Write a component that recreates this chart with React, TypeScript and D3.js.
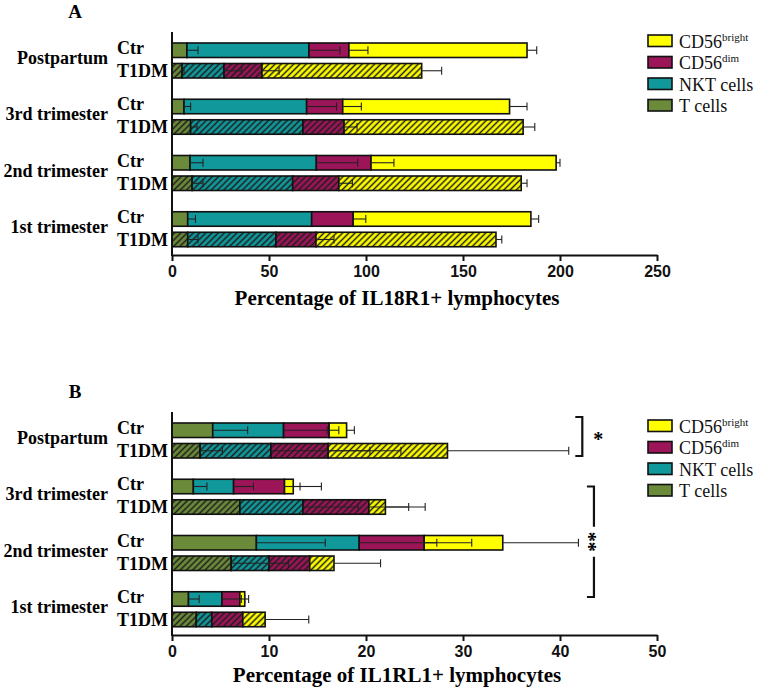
import React, { useRef, useEffect } from 'react';
import * as d3 from 'd3';

// categories
const groups = ['Postpartum', '3rd trimester', '2nd trimester', '1st trimester'];
const conditions = ['Ctr', 'T1DM'];
const cellTypes = ['T cells', 'NKT cells', 'CD56dim', 'CD56bright'];
const cellColors = ['#6b8b3b', '#11989b', '#9b1558', '#ffff00'];

// Panel A: % IL18R1+ lymphocytes, segments in stack order (T, NKT, CD56dim, CD56bright)
const il18Ctr = [
  [7.7, 62.9, 20.6, 91.8],
  [6.2, 63.2, 18.6, 86.0],
  [9.3, 65.1, 28.2, 95.4],
  [8.1, 63.9, 21.4, 91.6],
];
const il18CtrSem = [
  [5.7, 16.0, 9.8, 5.0],
  [3.4, 15.4, 9.6, 9.0],
  [6.7, 21.3, 11.8, 2.0],
  [4.0, 0, 6.5, 4.0],
];
const il18T1dm = [
  [5.2, 21.6, 19.6, 82.3],
  [9.6, 57.9, 21.2, 92.3],
  [10.4, 51.8, 23.8, 94.0],
  [8.1, 45.5, 20.6, 92.8],
];
const il18T1dmSem = [
  [1.0, 9.1, 8.8, 10.3],
  [3.3, 0, 6.7, 6.0],
  [5.6, 0, 7.0, 3.0],
  [5.3, 0, 9.3, 3.0],
];
const il18Ticks = [0, 50, 100, 150, 200, 250];

// Panel B: % IL1RL1+ lymphocytes
const il1Ctr = [
  [4.2, 7.3, 4.7, 1.8],
  [2.2, 4.15, 5.25, 0.9],
  [8.7, 10.6, 6.7, 8.1],
  [1.7, 3.45, 1.85, 0.5],
];
const il1CtrSem = [
  [3.6, 4.5, 1.0, 0.8],
  [1.4, 2.05, 1.6, 2.9],
  [7.1, 11.6, 1.3, 7.8],
  [1.1, 2.0, 0.5, 0.4],
];
const il1T1dm = [
  [2.9, 7.3, 5.9, 12.3],
  [7.0, 6.5, 6.8, 1.7],
  [6.1, 3.9, 4.2, 2.5],
  [2.5, 1.6, 3.2, 2.3],
];
const il1T1dmSem = [
  [2.3, 13.4, 4.3, 12.5],
  [0, 5.7, 4.1, 4.1],
  [3.9, 2.0, 0, 4.8],
  [0, 0, 0, 4.5],
];
const il1Ticks = [0, 10, 20, 30, 40, 50];

const serif = '"Liberation Serif", "Times New Roman", serif';
const sans = '"Liberation Sans", Arial, sans-serif';

const App: React.FC = () => {
  const svgRef = useRef<SVGSVGElement>(null);

  useEffect(() => {
    if (!svgRef.current) return;
    const svg = d3.select(svgRef.current);
    svg.selectAll('*').remove();

    // hatch patterns for the T1DM bars
    const defs = svg.append('defs');
    cellColors.forEach((c, i) => {
      const p = defs.append('pattern')
        .attr('id', `hatch-${i}`)
        .attr('patternUnits', 'userSpaceOnUse')
        .attr('width', 4.4)
        .attr('height', 4.4)
        .attr('patternTransform', 'rotate(45)');
      p.append('rect').attr('width', 4.4).attr('height', 4.4).attr('fill', c);
      p.append('line')
        .attr('x1', 2.2).attr('y1', 0).attr('x2', 2.2).attr('y2', 4.4)
        .attr('stroke', '#1c1c1c').attr('stroke-width', 1.5);
    });

    const panels = [
      {
        offset: 0, letter: 'A', max: 250, ticks: il18Ticks,
        title: 'Percentage of IL18R1+ lymphocytes', titleY: 305, legendTop: 35,
        rows: [il18Ctr, il18T1dm], sems: [il18CtrSem, il18T1dmSem], brackets: false,
      },
      {
        offset: 380, letter: 'B', max: 50, ticks: il1Ticks,
        title: 'Percentage of IL1RL1+ lymphocytes', titleY: 302, legendTop: 40,
        rows: [il1Ctr, il1T1dm], sems: [il1CtrSem, il1T1dmSem], brackets: true,
      },
    ];

    const axisTop = 32;
    const axisBottom = 255;

    panels.forEach((panel) => {
      const g = svg.append('g').attr('transform', `translate(0,${panel.offset})`);

      const x = d3.scaleLinear().domain([0, panel.max]).range([172, 657]);
      const yGroup = d3.scaleBand<string>().domain(groups).range([36, 261]);
      const yInner = d3.scaleBand<string>().domain(conditions).range([7, 42]).paddingInner(0.293);
      const bh = yInner.bandwidth();
      const barY = (grp: string, cond: string) => (yGroup(grp) ?? 0) + (yInner(cond) ?? 0);

      g.append('text')
        .attr('x', 75).attr('y', 18)
        .attr('text-anchor', 'middle')
        .style('font-family', serif).style('font-weight', 'bold').style('font-size', '19px')
        .text(panel.letter);

      // bars
      groups.forEach((grp, gi) => {
        conditions.forEach((cond, ci) => {
          const vals = panel.rows[ci][gi];
          const sems = panel.sems[ci][gi];
          const ends = Array.from(d3.cumsum(vals));
          const y0 = barY(grp, cond);
          vals.forEach((v, k) => {
            const start = k === 0 ? 0 : ends[k - 1];
            g.append('rect')
              .attr('x', x(start))
              .attr('y', y0)
              .attr('width', x(start + v) - x(start))
              .attr('height', bh)
              .attr('fill', ci === 0 ? cellColors[k] : `url(#hatch-${k})`)
              .attr('stroke', '#111')
              .attr('stroke-width', 1.6);
          });
          // error bars (upper SEM)
          const cy = y0 + bh / 2;
          sems.forEach((s, k) => {
            if (s <= 0) return;
            const x1 = x(ends[k]);
            const x2 = x(ends[k] + s);
            g.append('line')
              .attr('x1', x1).attr('x2', x2).attr('y1', cy).attr('y2', cy)
              .attr('stroke', '#222').attr('stroke-width', 1.1);
            g.append('line')
              .attr('x1', x2).attr('x2', x2).attr('y1', cy - 4).attr('y2', cy + 4)
              .attr('stroke', '#222').attr('stroke-width', 1.1);
          });

          g.append('text')
            .attr('x', 117)
            .attr('y', (yGroup(grp) ?? 0) + (ci === 0 ? 18 : 41))
            .style('font-family', serif).style('font-weight', 'bold').style('font-size', '18px')
            .text(cond);
        });

        g.append('text')
          .attr('x', 108)
          .attr('y', (yGroup(grp) ?? 0) + 28)
          .attr('text-anchor', 'end')
          .style('font-family', serif).style('font-weight', 'bold').style('font-size', '18px')
          .text(grp);
      });

      // axes
      g.append('line')
        .attr('x1', 172).attr('x2', 172).attr('y1', axisTop).attr('y2', axisBottom + 1)
        .attr('stroke', '#111').attr('stroke-width', 2);

      const ax = g.append('g')
        .attr('transform', `translate(0,${axisBottom})`)
        .call(d3.axisBottom(x).tickValues(panel.ticks).tickSize(6).tickSizeOuter(0).tickPadding(5));
      ax.select('path.domain').attr('stroke', '#111').attr('stroke-width', 2);
      ax.selectAll('line').attr('stroke', '#111').attr('stroke-width', 2);
      ax.selectAll('text')
        .attr('fill', '#111')
        .style('font-family', sans).style('font-weight', 'bold').style('font-size', '16px');

      g.append('text')
        .attr('x', 397).attr('y', panel.titleY)
        .attr('text-anchor', 'middle')
        .style('font-family', serif).style('font-weight', 'bold').style('font-size', '21px')
        .text(panel.title);

      // legend (reverse stack order)
      const legend = g.append('g').attr('transform', `translate(648,${panel.legendTop})`);
      [...cellTypes].reverse().forEach((name, i) => {
        const k = cellTypes.length - 1 - i;
        const row = legend.append('g').attr('transform', `translate(0,${i * 21.5})`);
        row.append('rect')
          .attr('width', 24).attr('height', 11.5)
          .attr('fill', cellColors[k]).attr('stroke', '#111').attr('stroke-width', 1.6);
        const t = row.append('text')
          .attr('x', 31).attr('y', 12.5)
          .style('font-family', serif).style('font-size', '18px').attr('fill', '#111');
        if (name.startsWith('CD56')) {
          t.append('tspan').text('CD56');
          t.append('tspan').attr('dy', -7).style('font-size', '11px').text(name.slice(4));
        } else {
          t.text(name);
        }
      });

      if (panel.brackets) {
        const bracketColor = '#111';
        // Postpartum: Ctr vs T1DM
        const bx1 = x(42.3);
        const t1 = barY('Postpartum', 'Ctr') - 6;
        const b1 = barY('Postpartum', 'T1DM') + bh - 2;
        g.append('path')
          .attr('d', `M${bx1 - 7},${t1}H${bx1}V${b1}H${bx1 - 7}`)
          .attr('fill', 'none').attr('stroke', bracketColor).attr('stroke-width', 2.2);
        g.append('text')
          .attr('x', bx1 + 16).attr('y', (t1 + b1) / 2 + 9)
          .attr('text-anchor', 'middle')
          .style('font-family', serif).style('font-weight', 'bold').style('font-size', '20px')
          .text('*');

        // 3rd trimester Ctr vs 2nd trimester Ctr
        const bx2 = x(43.5);
        const t2 = barY('3rd trimester', 'Ctr') + bh / 2;
        const b2 = barY('1st trimester', 'Ctr') + bh / 2 - 2;
        const mid = (t2 + b2) / 2;
        g.append('path')
          .attr('d', `M${bx2 - 7},${t2}H${bx2}V${mid - 15}M${bx2},${mid + 15}V${b2}H${bx2 - 7}`)
          .attr('fill', 'none').attr('stroke', bracketColor).attr('stroke-width', 2.2);
        g.append('text')
          .attr('transform', `translate(${bx2 - 5},${mid}) rotate(90)`)
          .attr('text-anchor', 'middle')
          .attr('dominant-baseline', 'central')
          .style('font-family', serif).style('font-weight', 'bold').style('font-size', '20px')
          .text('**');
      }
    });
  }, []);

  return (
    <svg
      ref={svgRef}
      width={759}
      height={691}
      style={{ position: 'absolute', left: 0, top: 0, background: '#fff' }}
    ></svg>
  );
};

export default App;
